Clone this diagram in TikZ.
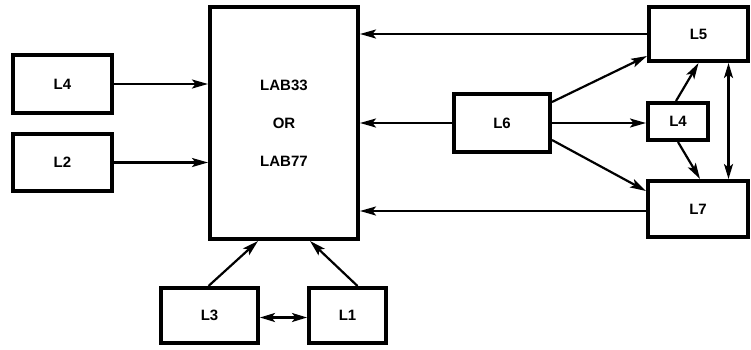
\documentclass[tikz,border=0pt]{standalone}
\usepackage{fontspec}
\setmainfont{Liberation Sans}
\usetikzlibrary{arrows.meta,calc}
\begin{document}
\begin{tikzpicture}[x=1pt,y=-1pt,
  blk/.style={draw,line width=4pt,inner sep=0pt,font=\bfseries\fontsize{15}{17}\selectfont},
  conn/.style={line width=2.2pt,-{Stealth[length=16pt,width=9pt,inset=3.5pt]}},
  bconn/.style={line width=2.2pt,{Stealth[length=15pt,width=9pt,inset=3.5pt]}-{Stealth[length=15pt,width=9pt,inset=3.5pt]}}]
\useasboundingbox (0,0) rectangle (751,349);
\node[blk,minimum width=99pt,minimum height=58pt] (l4a) at (62.5,84) {L4};
\node[blk,minimum width=99pt,minimum height=57pt] (l2) at (62.5,162.5) {L2};
\node[blk,minimum width=148pt,minimum height=232pt,align=center] (big) at (284,123) {LAB33\\[21pt]OR\\[21pt]LAB77};
\node[blk,minimum width=97pt,minimum height=55pt] (l3) at (209.5,315.5) {L3};
\node[blk,minimum width=77pt,minimum height=55pt] (l1) at (347.5,315.5) {L1};
\node[blk,minimum width=96pt,minimum height=58pt] (l6) at (502,123) {L6};
\node[blk,minimum width=99pt,minimum height=54pt] (l5) at (698.5,34) {L5};
\node[blk,minimum width=60pt,minimum height=37pt] (l4b) at (678,121.5) {L4};
\node[blk,minimum width=100pt,minimum height=56pt] (l7) at (698,209) {L7};
% left inputs
\draw[conn] (l4a.east) -- (l4a.east -| big.west);
\draw[conn] (l2.east) -- (l2.east -| big.west);
% bottom inputs
\draw[conn] ([xshift=-1pt]l3.north) -- ([xshift=-26pt]big.south);
\draw[conn] ([xshift=10pt]l1.north) -- ([xshift=26pt]big.south);
\draw[bconn] ([yshift=-2pt]l3.east) -- ([yshift=-2pt]l1.west);
% right to big
\draw[conn] (l5.west) -- (l5.west -| big.east);
\draw[conn] (l6.west) -- (l6.west -| big.east);
\draw[conn] ([yshift=-2pt]l7.west) -- ([yshift=-2pt]l7.west -| big.east);
% L6 outputs
\draw[conn] ([yshift=21pt]l6.east) -- ([yshift=-22pt]l5.west);
\draw[conn] (l6.east) -- (l6.east -| l4b.west);
\draw[conn] ([yshift=-17pt]l6.east) -- ([yshift=18pt]l7.west);
% L4 right outputs
\draw[conn] ([xshift=-2pt]l4b.north) -- (l5.south);
\draw[conn] (l4b.south) -- ([xshift=2pt]l7.north);
\draw[bconn] ([xshift=30pt]l5.south) -- ([xshift=30.5pt]l7.north);
\end{tikzpicture}
\end{document}
